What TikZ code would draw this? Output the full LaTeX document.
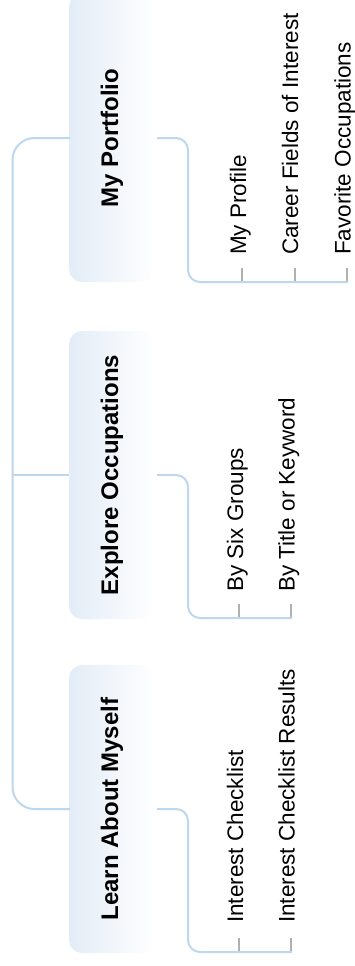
\documentclass[tikz,border=0pt]{standalone}
\usepackage{fontspec}
\setmainfont{Liberation Sans}
\definecolor{linkblue}{HTML}{BDD7EE}
\definecolor{tickgray}{HTML}{B0B0B0}
\definecolor{boxblue}{HTML}{E3ECF7}
\begin{document}
\begin{tikzpicture}[x=1pt,y=-1pt,
  catbox/.style={rounded corners=13pt, left color=boxblue, right color=white,
    minimum width=86pt, minimum height=288pt, inner sep=0pt, draw=none},
  cattext/.style={rotate=90, inner sep=0pt, font=\fontsize{24}{28}\selectfont\bfseries},
  itemtext/.style={rotate=90, inner sep=0pt, anchor=base west, font=\fontsize{22.5}{26}\selectfont},
  link/.style={draw=linkblue, line width=2pt},
  tickline/.style={draw=tickgray, line width=2pt}]
\useasboundingbox (0,0) rectangle (355,966);
\clip (0,0) rectangle (355,966);

% category boxes
\node[catbox] (pf) at (112,138) {};
\node[catbox] (eo) at (112,475) {};
\node[catbox] (lm) at (112,809) {};
\node[cattext] (pft) at (pf.center) {My Portfolio};
\node[cattext] (eot) at (eo.center) {Explore Occupations};
\node[cattext] (lmt) at (lm.center) {Learn About Myself};

% trunk
\coordinate (trunk) at (12.5,475);
\draw[link, rounded corners=22pt] ([xshift=1pt]pf.west) -| (trunk) |- ([xshift=1pt]lm.west);
\draw[link] (trunk) -- (eo.west);

% items: My Portfolio
\node[itemtext] (pf1) at (246,255) {My Profile};
\node[itemtext] (pf2) at (298,255) {Career Fields of Interest};
\node[itemtext] (pf3) at (350.5,255) {Favorite Occupations};
\coordinate (pfend) at (348,282);
\coordinate (pfk1) at (242,268);
\coordinate (pfk2) at (294.5,268);
\coordinate (pfk3) at (347,268);
\foreach \k in {pfk1,pfk2,pfk3} \draw[tickline] (\k) -- (\k |- pfend);
\draw[link, rounded corners=12pt] ([xshift=2pt]pf.east) -| (188,282) -- (pfend);

% items: Explore Occupations
\node[itemtext] (eo1) at (243,592) {By Six Groups};
\node[itemtext] (eo2) at (294.5,592) {By Title or Keyword};
\coordinate (eoend) at (292,618);
\coordinate (eok1) at (238.5,604);
\coordinate (eok2) at (291,604);
\foreach \k in {eok1,eok2} \draw[tickline] (\k) -- (\k |- eoend);
\draw[link, rounded corners=12pt] ([xshift=2pt]eo.east) -| (188,618) -- (eoend);

% items: Learn About Myself
\node[itemtext] (lm1) at (243,923) {Interest Checklist};
\node[itemtext] (lm2) at (294.5,923) {Interest Checklist Results};
\coordinate (lmend) at (292,952);
\coordinate (lmk1) at (238.5,938);
\coordinate (lmk2) at (291,938);
\foreach \k in {lmk1,lmk2} \draw[tickline] (\k) -- (\k |- lmend);
\draw[link, rounded corners=12pt] ([xshift=2pt]lm.east) -| (188,952) -- (lmend);
\end{tikzpicture}
\end{document}
